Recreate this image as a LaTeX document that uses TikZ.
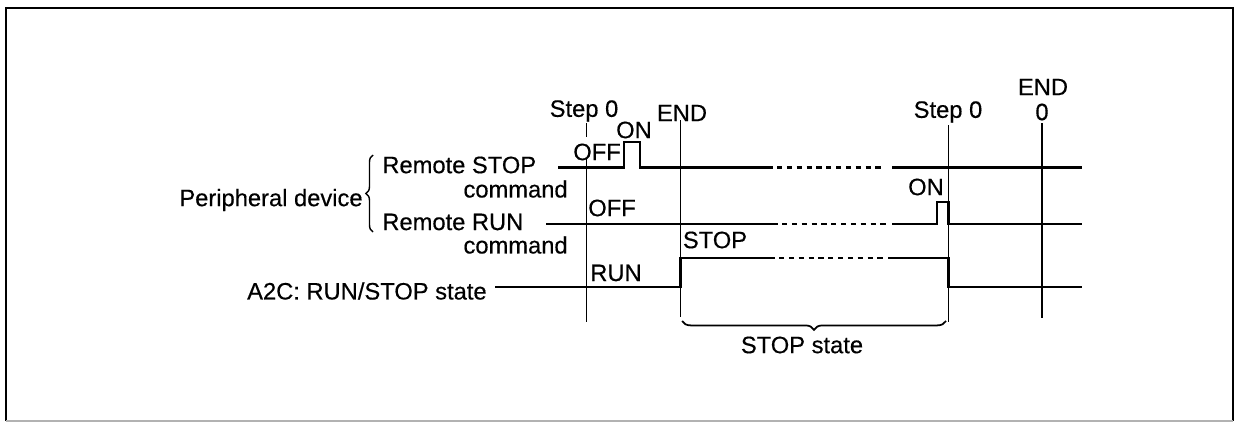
\documentclass[tikz,border=0pt]{standalone}
\usepackage{fontspec}
\setmainfont{Liberation Sans}
\newfontfamily\scanfont{Liberation Sans}[FakeBold=0.4]
\usetikzlibrary{positioning, decorations.pathreplacing}
\tikzset{
  signal/.style={line width=1.3pt, line join=miter}, % the waveforms
  dotted gap/.style={signal, dash pattern=on 3pt off 2.6pt}, % the omitted time
  timeline/.style={line width=1pt}, % step 0 / END marks
  lbl/.style={inner sep=0pt, font=\scanfont\fontsize{13.5}{15}\selectfont},
  frame/.style={line width=1.6pt},
}
\begin{document}
\begin{tikzpicture}[x=0.02cm, y=-0.02cm]
  \useasboundingbox (0,0) rectangle (1241,423);
  % outer frame
  \draw[frame] (6,421) -- (6,8) -- (1233,8) -- (1233,421);
  \draw[gray!60, line width=1pt] (6,421) -- (1233,421);

  % labels on the left
  \node[lbl, anchor=east] (periph) at (363,200) {Peripheral device};
  \node[lbl, anchor=west] (rstop) at (382,165) {Remote STOP};
  \node[lbl, anchor=east] (rstopcmd) at (568,189) {command};
  \node[lbl, anchor=west] (rrun) at (382,222) {Remote RUN};
  \node[lbl, anchor=east] (rruncmd) at (568,245) {command};
  \node[lbl, anchor=east] (state) at (487,291) {A2C: RUN/STOP state};
  \draw[line width=0.8pt, decorate, decoration={brace, amplitude=4pt}]
    (373,232) -- (373,155);

  % time marks
  \node[lbl] (step_a) at (584,111) {Step 0};
  \node[lbl] (end_a) at (682,113) {END};
  \node[lbl] (step_b) at (948,112) {Step 0};
  \node[lbl] (end_b) at (1043,87) {END};
  \node[lbl] (zero_b) at (1042,112) {0};
  \draw[timeline] (586.5,123) -- (586.5,137);
  \draw[timeline] (586.5,158) -- (586.5,322);
  \draw[timeline] (680.5,120) -- (680.5,317);
  \draw[timeline] (948.5,125) -- (948.5,322);
  \draw[timeline] (1042,123) -- (1042,318);

  % level labels
  \node[lbl] (off_a) at (597,152) {OFF};
  \node[lbl] (on_a) at (634,130) {ON};
  \node[lbl] (off_b) at (612,208) {OFF};
  \node[lbl] (on_b) at (926,187) {ON};
  \node[lbl] (stop_lv) at (715,240) {STOP};
  \node[lbl] (run_lv) at (616,273) {RUN};

  % remote STOP command
  \draw[signal] (558,167.5) -- (624,167.5) -- (624,142) -- (640,142)
    -- (640,167.5) -- (773,167.5);
  \draw[dotted gap] (777,167.5) -- (884,167.5);
  \draw[signal] (892,167.5) -- (1082,167.5);

  % remote RUN command
  \draw[signal] (546,224) -- (778,224);
  \draw[dotted gap] (782,224) -- (886,224);
  \draw[signal] (892,224) -- (937,224) -- (937,202) -- (948.5,202)
    -- (948.5,224) -- (1082,224);

  % RUN/STOP state of the A2C
  \draw[signal] (495,287) -- (680.5,287) -- (680.5,258) -- (775,258);
  \draw[dotted gap] (779,258) -- (884,258);
  \draw[signal] (888,258) -- (948.5,258) -- (948.5,287) -- (1082,287);

  % STOP state span
  \draw[line width=1pt, decorate, decoration={brace, amplitude=5pt}]
    (946,321) -- (682,321);
  \node[lbl] (stopstate) at (802,345) {STOP state};
\end{tikzpicture}
\end{document}
